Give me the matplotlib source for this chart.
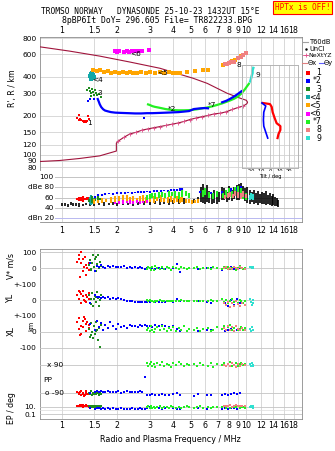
import numpy as np
import matplotlib
matplotlib.use("Agg")
import matplotlib.pyplot as plt
from matplotlib.ticker import FixedLocator, FixedFormatter, NullLocator

# ---*** DATA ***---
freq_ticks = [1, 1.5, 2, 3, 4, 5, 6, 7, 8, 9, 10, 12, 14, 16, 18]
freq_labels = ["1", "1.5", "2", "3", "4", "5", "6", "7", "8", "9", "10", "12", "14", "16", "18"]
h_ticks = [80, 90, 100, 120, 150, 200, 300, 400, 600, 800]

# model profile (plasma frequency vs real height)
prof_f = [0.759, 1.105, 1.609, 2.342, 3.41, 4.38, 5.15, 6.14, 7.88, 9.27, 10.0, 10.15, 10.05,
          9.632, 9.049, 8.394, 7.787, 7.224, 6.701, 6.216, 5.767, 5.349, 4.962, 4.603, 4.269,
          3.961, 3.674, 3.409, 3.162, 2.934, 2.722, 2.525, 2.342, 2.173, 2.015, 1.98, 1.98,
          1.609, 1.25, 0.975, 0.759]
prof_h = [685, 634, 580, 522, 467, 419, 391, 357, 299, 274, 264, 255, 248,
          238.8, 232.6, 224.4, 215.1, 209.8, 207.3, 201.8, 197.2, 192.6, 187.6, 181.3, 176.2,
          172.5, 168.9, 165.4, 162.1, 158.7, 155.1, 149.2, 145.2, 136.5, 127.1, 123, 107,
          98.2, 93.7, 90.4, 88.8]
nx_f = [2.015, 2.173, 2.342, 2.525, 2.722, 2.934, 3.162, 3.409, 3.674, 3.961, 4.269, 4.603,
        4.962, 5.349, 5.767, 6.216, 6.701, 7.224, 7.787, 8.394, 9.049, 9.632]
nx_h = [127.1, 136.5, 145.2, 149.2, 155.1, 158.7, 162.1, 165.4, 168.9, 172.5, 176.2, 181.3,
        187.6, 192.6, 197.2, 201.8, 207.3, 209.8, 215.1, 224.4, 232.6, 238.8]

# echo traces R' vs f
f1 = [1.22, 1.24, 1.26, 1.28, 1.30, 1.32, 1.34, 1.36, 1.38, 1.40, 1.25, 1.39]
h1 = [191, 187, 189, 186, 184, 181, 182, 180, 184, 190, 204, 200]
f2 = [1.57, 1.59, 1.61, 1.64, 1.68, 1.72, 1.78, 1.85, 1.95, 2.1, 2.3, 2.5,
      2.7, 2.9, 3.1, 3.4, 3.7, 4.0, 4.3, 4.6, 4.9, 5.2, 5.5, 5.9, 6.2]
h2 = [270, 258, 246, 234, 225, 220, 217, 214, 212, 211, 210, 209,
      209, 210, 210, 211, 212, 213, 214, 216, 218, 226, 228, 230, 229]
f2b = [7.4, 7.8, 8.2, 8.6, 9.0, 9.4]
h2b = [255, 262, 272, 283, 296, 310]
f2s = [1.39, 1.42, 1.50, 2.79]
h2s = [261, 268, 272, 191]
f3 = [1.38, 1.40, 1.42, 1.44, 1.46, 1.48, 1.50, 1.53, 1.56, 1.60, 1.63, 1.45, 1.52]
h3 = [318, 326, 310, 300, 322, 305, 292, 300, 288, 296, 282, 285, 315]
f4 = [1.42, 1.44, 1.46, 1.48, 1.50, 1.45, 1.47]
h4 = [410, 425, 395, 418, 402, 385, 432]
f5 = [1.48, 1.55, 1.62, 1.70, 1.78, 1.86, 1.95, 2.05, 2.15, 2.25, 2.35, 2.45, 2.55, 2.7, 2.85,
      3.0, 3.2, 3.4, 3.6, 3.8, 4.0, 4.2, 4.4, 4.8, 5.3, 5.8, 6.2, 7.5, 7.8, 8.1, 8.4, 8.7, 9.0, 9.3]
h5 = [455, 445, 450, 438, 442, 432, 440, 430, 436, 428, 438, 432, 426, 440, 430,
      436, 432, 434, 428, 436, 430, 432, 428, 440, 445, 450, 452, 495, 505, 515, 530, 545, 560, 585]
f6 = [1.94, 1.99, 2.05, 2.18, 2.25, 2.33, 2.42, 2.50, 2.58, 2.66, 2.74, 2.98]
h6 = [640, 628, 635, 622, 630, 628, 632, 630, 636, 631, 633, 650]
f7 = [2.9, 3.0, 3.1, 3.2, 3.35, 3.5, 3.65, 3.8, 4.0, 4.3, 4.6, 5.0, 5.4, 5.8, 6.2, 6.6, 7.0,
      7.4, 7.8, 8.2, 8.6, 9.0, 9.4, 9.8, 10.1, 10.4]
h7 = [247, 243, 238, 235, 232, 229, 226, 224, 222, 221, 221, 222, 225, 229, 233, 238, 244,
      250, 257, 264, 272, 282, 298, 320, 340, 360]
f8 = [7.7, 7.9, 8.1, 8.3, 8.6, 9.0, 9.3, 9.6, 10.0]
h8 = [500, 505, 510, 520, 525, 560, 575, 590, 615]
f9 = [10.5, 10.6, 10.7, 10.8, 10.8, 10.9]
h9 = [370, 390, 410, 430, 450, 470]

trace_names = ["1", "*2", "3", "<4", "<5", "<6", "*7", "8", "9"]
trace_cols = ["#ff0000", "#0000ff", "#1e8c1e", "#10a8a8", "#ffa500", "#ff00ff",
              "#22f022", "#f08080", "#30e0d0"]
lab_f = [1.42, 3.95, 1.61, 1.57, 3.52, 2.52, 6.52, 9.16, 11.5]
lab_h = [176, 226, 300, 379, 432, 601, 243, 494, 414]

# tilt
tx_h = [252, 247, 235, 214, 193, 176, 167, 156, 145, 135]
tx_v = [-7.6, 0, 1.8, 2.8, 4.9, 7, 11, 11, 9, 8]
ty_h = [252, 239, 214, 186, 167, 150, 135]
ty_v = [-8.6, -4.5, -6.6, -7, -6.6, -4.5, -2.4]

# amplitude (dB) ranges
un_f = [1.00, 1.04, 1.08, 1.12, 1.16, 1.20, 1.25, 1.30, 1.36, 1.42,
        1.50, 1.60, 1.70, 1.80, 1.90, 2.00, 2.15, 2.30, 2.45, 2.60, 2.80,
        3.00, 3.20, 3.40, 3.60, 3.80, 4.00, 4.30, 4.60, 4.90,
        5.20, 5.50, 5.70, 5.85, 6.00, 6.15, 6.30,
        6.50, 6.70, 6.90, 7.10, 7.35,
        7.60, 7.85, 8.10, 8.35, 8.60, 8.85, 9.10, 9.35, 9.60, 9.85,
        10.1, 10.4, 10.7, 11.0, 11.3, 11.6, 11.9, 12.2, 12.5, 12.8, 13.1, 13.4, 13.7, 14.0, 14.3, 14.6, 14.9]
un_lo = [43, 44, 42, 45, 43, 44, 42, 44, 45, 43,
         44, 45, 44, 46, 45, 44, 46, 45, 44, 46, 45,
         46, 47, 45, 48, 46, 47, 48, 47, 49,
         50, 49, 52, 50, 48, 52, 50,
         48, 50, 47, 52, 55,
         55, 52, 56, 54, 58, 55, 56, 60, 57, 54,
         50, 48, 52, 47, 50, 46, 49, 47, 48, 45, 47, 46, 44, 45, 43, 44, 42]
un_hi = [49, 50, 48, 51, 50, 49, 50, 48, 50, 49,
         50, 49, 51, 50, 52, 50, 51, 50, 52, 51, 53,
         55, 54, 57, 56, 58, 55, 57, 60, 58,
         58, 62, 80, 86, 78, 84, 74,
         70, 76, 68, 72, 80,
         78, 72, 82, 76, 80, 84, 86, 88, 82, 78,
         80, 76, 72, 75, 70, 74, 68, 72, 70, 73, 66, 70, 64, 67, 62, 60, 55]
db_f = [[1.22, 1.25, 1.28, 1.31, 1.34, 1.37, 1.40],
        [1.52, 1.58, 1.65, 1.72, 1.80, 1.90, 2.0, 2.1, 2.2, 2.3, 2.4, 2.5, 2.6, 2.7, 2.8, 2.9, 3.0,
         3.15, 3.3, 3.45, 3.6, 3.75, 3.9, 4.05, 4.2, 4.35, 4.5, 5.6, 6.4, 7.4, 7.8, 8.3, 8.8, 9.3],
        [1.40, 1.46, 1.52, 1.57, 1.62],
        [1.42, 1.44, 1.46, 1.48, 1.50],
        [1.50, 1.58, 1.66, 1.75, 1.85, 1.95, 2.05, 2.15, 2.25, 2.35, 2.45, 2.55, 2.65, 2.75, 2.85,
         3.0, 3.15, 3.3, 3.45, 3.6, 3.75, 3.9, 4.05, 4.2, 4.35, 4.5, 4.7, 4.9, 5.1, 5.3, 5.5],
        [1.95, 2.05, 2.15, 2.25, 2.35, 2.45, 2.55, 2.65, 2.75, 2.90],
        [2.9, 3.0, 3.1, 3.2, 3.35, 3.5, 3.65, 3.8, 3.95, 4.1, 4.3, 4.5, 4.7, 4.9, 5.8, 6.0, 6.3,
         6.6, 6.9, 7.5, 7.8, 8.1, 8.4, 8.7, 9.0, 9.3, 9.6, 9.9],
        [7.7, 7.95, 8.2, 8.45, 8.7, 9.0, 9.3, 9.6, 9.9],
        [10.4, 10.6, 10.8]]
db_lo = [[55, 53, 54, 52, 55, 56, 57],
         [60, 63, 64, 66, 67, 66, 68, 67, 68, 69, 68, 69, 70, 69, 70, 71, 70, 71, 72, 71, 73, 72,
          73, 74, 73, 74, 73, 70, 68, 68, 70, 72, 74, 76],
         [52, 50, 53, 51, 55],
         [48, 46, 50, 47, 52],
         [48, 50, 49, 51, 50, 52, 53, 52, 54, 51, 52, 50, 53, 51, 50, 52, 50, 53, 51, 52, 50, 51,
          49, 52, 50, 51, 49, 50, 48, 49, 50],
         [47, 48, 47, 49, 48, 47, 49, 48, 49, 50],
         [56, 58, 60, 57, 60, 62, 59, 61, 63, 60, 58, 62, 64, 60, 62, 65, 60, 58, 62, 60, 62, 64,
          60, 63, 66, 62, 58, 56],
         [58, 60, 62, 59, 63, 60, 58, 61, 60],
         [55, 57, 56]]
db_hi = [[60, 62, 61, 63, 60, 62, 61],
         [64, 67, 68, 70, 70, 70, 71, 71, 72, 72, 72, 72, 73, 73, 74, 74, 74, 75, 75, 75, 76, 76,
          77, 77, 77, 78, 78, 74, 72, 74, 76, 78, 80, 82],
         [58, 63, 61, 64, 60],
         [62, 66, 64, 60, 58],
         [58, 56, 60, 58, 62, 64, 63, 66, 65, 62, 64, 60, 63, 66, 62, 61, 64, 62, 65, 60, 62, 64,
          60, 63, 61, 62, 58, 57, 56, 55, 58],
         [52, 54, 55, 53, 56, 54, 55, 53, 54, 55],
         [66, 68, 70, 69, 71, 72, 70, 73, 71, 74, 72, 75, 73, 70, 75, 78, 72, 70, 74, 70, 76, 78,
          74, 80, 82, 78, 72, 70],
         [66, 70, 72, 68, 74, 72, 70, 74, 68],
         [66, 70, 68]]

# lower panel: per trace f, V*, YL, XL, PP, EP
lo_cols = ["#ff0000", "#1e8c1e", "#0000ff", "#22f022", "#f08080", "#30e0d0"]
lo_f = [[1.22, 1.24, 1.25, 1.27, 1.28, 1.30, 1.31, 1.33, 1.35, 1.36, 1.38, 1.40, 1.41, 1.26, 1.34],
        [1.40, 1.42, 1.44, 1.46, 1.48, 1.50, 1.52, 1.54, 1.56, 1.58, 1.60, 1.62, 1.64, 1.45, 1.53],
        [1.42, 1.52, 1.56, 1.60, 1.64, 1.68, 1.72, 1.78, 1.84, 1.90, 1.96, 2.03, 2.10, 2.18, 2.26,
         2.34, 2.42, 2.50, 2.58, 2.66, 2.74, 2.82, 2.90, 3.0, 3.1, 3.2, 3.35, 3.5, 3.65, 3.8, 4.0,
         4.2, 4.4, 5.2, 5.5, 6.1, 6.4, 7.4, 7.7, 8.0, 8.3, 8.6, 8.9, 9.2],
        [2.90, 2.95, 3.00, 3.05, 3.10, 3.15, 3.20, 3.30, 3.40, 3.50, 3.60, 3.70, 3.80, 3.90, 4.00,
         4.15, 4.30, 4.45, 4.60, 4.75, 4.90, 5.20, 5.40, 5.60, 5.80, 6.20, 6.40, 6.60, 6.90, 7.40,
         7.60, 7.80, 8.00, 8.20, 8.40, 8.60, 8.80, 9.00, 9.20, 9.40, 9.60, 9.80],
        [7.6, 7.8, 8.0, 8.2, 8.4, 8.6, 8.8, 9.0, 9.2, 9.5, 9.8],
        [10.5, 10.6, 10.7, 10.8, 10.9]]
lo_v = [[40, 80, 55, 100, 30, -20, 60, 10, -45, 20, 0, -10, 35, -55, 70],
        [20, 50, -10, 35, 80, 5, 60, -20, 25, 83, 0, 40, 15, -5, 70],
        [30, -20, 15, 5, 20, 10, 0, 12, 8, 15, 5, 10, 6, 12, 4, 8, 2, 6, 0, 5, 3, -2, 4, 0, 2, -3,
         1, 0, -2, 3, 0, 25, -25, 2, -5, 0, 3, -10, 5, -2, 8, -6, 2, 0],
        [-5, 10, 0, -12, 5, -8, 15, 0, -5, 8, -3, 5, 0, -10, 6, 2, -4, 8, 0, -6, 4, 0, 5, -5, 3,
         0, -4, 6, 2, -3, 5, 0, 8, -5, 2, 10, -8, 4, 15, 0, -6, 3],
        [0, 5, -5, 3, -2, 8, 0, -4, 6, 2, -3],
        [5, 10, 0, 8, 3]]
lo_yl = [[30, 55, 10, 40, -15, 25, 60, 0, 35, -10, 20, 45, 5, 50, -5],
         [30, -20, 10, 45, -35, 5, 25, -10, 52, 15, -40, 0, 35, -25, 20],
         [-20, 30, 18, 22, 15, 20, 12, 18, 10, 14, 8, 12, 5, 2, -4, -6, -8, -10, -12, -9, -11,
          -13, -10, -12, -8, -11, -10, -9, -12, -8, -10, 5, -6, -5, -3, -12, -18, 10, -20, -35,
          0, -28, 5, -15],
         [-2, -6, 0, -8, -4, -10, -3, -6, -2, -8, -5, -4, -7, -3, -6, -5, -8, -2, -6, -4, -7, -5,
          -3, -8, -4, -6, -2, -5, -7, 5, -10, 0, -15, -5, 8, -12, -3, -20, 0, -8, -15, -5],
         [-15, -30, -10, -45, -20, -35, -8, -25, -40, -15, -30],
         [10, -10, -30, 0, -20]]
lo_xl = [[60, 20, 85, 40, -15, 70, 30, 95, 50, 5, 65, 25, 45, -20, 80],
         [20, -30, 55, 0, -40, 35, -10, 64, 10, -50, 25, -95, 45, -20, 5],
         [50, 10, 70, 30, 55, 15, 45, 25, 60, 35, 20, 50, 30, 40, 25, 45, 35, 40, 30, 45, 38, 42,
          35, 40, 33, 45, 38, 42, 36, 30, 40, 20, 5, 12, 8, 10, 15, 20, 5, 12, 18, 8, 14, 10],
         [10, 25, 5, 35, 15, 0, 20, 30, 10, 40, 18, 5, 25, 12, 30, 8, 22, 15, 35, 5, 20, 12, 28,
          8, 18, 25, 5, 15, 30, 20, 40, 10, 30, 45, 15, 25, 35, 10, 20, 30, 15, 25],
         [25, 10, 40, 15, 30, 5, 35, 20, 10, 25, 15],
         [20, 5, 30, 10, 15]]
lo_pp = [[-80, -95, -88, -100, -75, -92, -85, -105, -90, -78, -96, -86, -93, -82, -99],
         [-85, -95, -78, -100, -88, -92, -80, -97, -84, -90, -102, -87, -93, -75, -89],
         [-85, -80, -78, -82, -76, -84, -80, -78, -83, -79, -81, -77, -85, -80, -78, -82, -79,
          -84, -80, -76, -82, 12, -98, -100, -96, -102, -99, -97, -101, -98, -95, -88, -100,
          -105, -95, -100, -98, -102, -97, -99, -95, -88, -92, -85],
         [100, 80, 95, 110, 85, 92, 75, 98, 88, 105, 82, 95, 90, 78, 100, 86, 108, 92, 80, 96,
          88, 94, 80, 102, 90, 85, 98, 78, 92, 88, 100, 82, 95, 105, 85, 90, 98, 80, 92, 100, 86, 94],
         [90, 80, 95, 85, 100, 88, 78, 92, 84, 96, 90],
         [95, 85, 100, 90, 80]]
lo_ep = [[15, 20, 12, 25, 18, 10, 22, 14, 16, 30, 12, 20, 11, 24, 17],
         [12, 8, 15, 10, 18, 9, 13, 11, 20, 7, 14, 10, 16, 12, 9],
         [5, 3, 4, 6, 2, 5, 3, 4, 2, 5, 3, 2, 4, 3, 2, 3, 4, 2, 3, 5, 2, 3, 6, 8, 5, 4, 6, 3, 5,
          4, 6, 3, 2, 4, 5, 3, 4, 2, 6, 3, 5, 4, 3, 5],
         [8, 12, 5, 15, 6, 10, 4, 9, 14, 6, 11, 7, 5, 12, 8, 6, 10, 4, 9, 13, 7, 5, 8, 12, 6, 9,
          4, 7, 10, 8, 12, 5, 15, 6, 9, 11, 7, 13, 5, 8, 10, 6],
         [12, 20, 15, 25, 10, 18, 22, 14, 16, 20, 12],
         [10, 15, 8, 12, 6]]

# ---*** LAYOUT ***---
W, H = 335.0, 451.0
GRID = "#d2d2d2"
FRAME = "#8c8c8c"
FS = 5.3


def box(x0, y0, x1, y1):
    return [x0 / W, 1 - y1 / H, (x1 - x0) / W, (y1 - y0) / H]


def freq_axis(a, labels=None, top=False, pad=1.5):
    a.set_xscale("log")
    a.set_xlim(0.76, 20)
    a.xaxis.set_major_locator(FixedLocator(freq_ticks))
    a.xaxis.set_minor_locator(NullLocator())
    if labels:
        a.xaxis.set_major_formatter(FixedFormatter(freq_labels))
    else:
        a.set_xticklabels([])
    if top:
        a.xaxis.tick_top()
    a.tick_params(axis="x", length=0, labelsize=FS + 0.4, pad=pad)


fig = plt.figure(figsize=(3.35, 4.51), dpi=100)
mono = "DejaVu Sans Mono"
fig.text(150 / W, 1 - 12 / H, "TROMSO NORWAY   DYNASONDE 25-10-23 1432UT 15\u00b0E",
         family=mono, fontsize=5.65, ha="center", va="center")
fig.text(157 / W, 1 - 20.5 / H, "8pBP6It DoY= 296.605 File= TR822233.BPG",
         family=mono, fontsize=5.85, ha="center", va="center")
fig.text(302.5 / W, 1 - 7.5 / H, "HPTx is OFF!", family=mono, fontsize=5.6, color="#ff0000",
         ha="center", va="center",
         bbox=dict(boxstyle="square,pad=0.25", facecolor="#ffff00", edgecolor="#ff0000", lw=0.8))

# ---*** TOP PANEL: R' vs f ***---
ax = fig.add_axes(box(39.5, 37, 302, 171))
freq_axis(ax, labels=True, top=True)
ax.set_yscale("log")
ax.set_ylim(75, 815)
ax.yaxis.set_major_locator(FixedLocator(h_ticks))
ax.yaxis.set_major_formatter(FixedFormatter([str(v) for v in h_ticks]))
ax.yaxis.set_minor_locator(NullLocator())
ax.tick_params(axis="y", length=0, labelsize=FS, pad=2)
ax.grid(True, color=GRID, lw=0.6)
for s in ax.spines.values():
    s.set_color(FRAME)
    s.set_linewidth(0.6)

ax.plot(prof_f, prof_h, color="#a0143c", lw=0.8, zorder=3)
ax.plot(nx_f, nx_h, "+", color="#e0508c", ms=3, mew=0.6, zorder=3)

ms = 3.5
ax.scatter(f1, h1, s=ms + 1, marker="s", color=trace_cols[0], lw=0, zorder=4)
ax.scatter(f3, h3, s=ms + 1, marker="s", color=trace_cols[2], lw=0, zorder=4)
ax.scatter(f4, h4, s=ms + 2, marker="s", color=trace_cols[3], lw=0, zorder=4)
ax.scatter(f5, h5, s=ms + 3, marker="s", color=trace_cols[4], lw=0, zorder=4)
ax.scatter(f6, h6, s=ms + 2, marker="s", color=trace_cols[5], lw=0, zorder=4)
ax.plot(f7, h7, color=trace_cols[6], lw=1.6, zorder=4, solid_capstyle="butt")
ax.plot(f2, h2, color=trace_cols[1], lw=1.6, zorder=5)
ax.plot(f2b, h2b, color=trace_cols[1], lw=1.6, zorder=5)
ax.scatter(f2s, h2s, s=ms, marker="s", color=trace_cols[1], lw=0, zorder=5)
ax.scatter(f8, h8, s=ms + 2, marker="s", color=trace_cols[7], lw=0, zorder=4)
ax.plot(f9, h9, color=trace_cols[8], lw=1.8, zorder=4)
for i in range(9):
    ax.text(lab_f[i], lab_h[i], trace_names[i], fontsize=FS, ha="center", va="center", zorder=6)

fig.text(12 / W, 1 - 88 / H, "R', R / km", rotation=90, fontsize=FS + 0.3,
         ha="center", va="center")

# tilt inset
axt = fig.add_axes(box(241.7, 65, 298.3, 168.3))
axt.patch.set_alpha(0)
axt.set_yscale("log")
axt.set_ylim(78.9, 495)
axt.set_xlim(-30, 30)
axt.set_yticks([])
axt.yaxis.set_minor_locator(NullLocator())
axt.set_xticks([-20, -10, 0, 10, 20])
axt.set_xticklabels(["-20", "-10", "0", "10", "20"])
axt.tick_params(axis="x", length=0, labelsize=3.7, pad=0.6)
axt.grid(True, axis="x", color="#c0c0c0", lw=0.6)
for s in axt.spines.values():
    s.set_color("#b4b4b4")
    s.set_linewidth(0.7)
axt.plot(tx_v, tx_h, color="#ff0000", lw=1.6)
axt.plot(ty_v, ty_h, color="#0000ff", lw=1.2)
fig.text(270 / W, 1 - 176.2 / H, "Tilt / deg", fontsize=3.7, ha="center", va="center")

# legend
ov = fig.add_axes([0, 0, 1, 1])
ov.set_xlim(0, W)
ov.set_ylim(H, 0)
ov.axis("off")
ov.patch.set_alpha(0)
LF = 4.8
ov.plot([303, 308], [42.3, 42.3], color="#a0a0a0", lw=0.8)
ov.text(309.5, 42.3, "T60dB", fontsize=LF, va="center")
ov.plot([305.5], [48.7], ".", color="black", ms=1.5)
ov.text(309.5, 48.7, "UnCl", fontsize=LF, va="center")
ov.plot([303, 308], [55.3, 55.3], color="#e0508c", lw=0.6)
ov.plot([305.5], [55.3], "+", color="#e0508c", ms=3, mew=0.6)
ov.text(308.5, 55.3, "NeXtYZ", fontsize=LF - 0.3, va="center")
ov.plot([302, 307], [63.3, 63.3], color="#e08080", lw=0.8)
ov.text(307.5, 63.3, "\u0398x", fontsize=LF, va="center")
ov.plot([318.5, 323.5], [63.3, 63.3], color="#6060ff", lw=0.8)
ov.text(324, 63.3, "\u0398y", fontsize=LF, va="center")
for i in range(9):
    yy = 72.7 + 8.17 * i
    ov.scatter([307.5], [yy], s=5, marker="s", color=trace_cols[i], lw=0)
    ov.text(321, yy, trace_names[i], fontsize=FS + 0.3, ha="right", va="center")

# ---*** AMPLITUDE PANEL ***---
axd = fig.add_axes(box(39.5, 171, 302, 222))
freq_axis(axd, labels=True, pad=3.2)
axd.set_ylim(12.1, 112.4)
axd.set_yticks([])
axd.grid(True, axis="x", color=GRID, lw=0.6)
for name, s in axd.spines.items():
    s.set_color(FRAME)
    s.set_linewidth(0.6)
    if name in ("top", "left"):
        s.set_visible(False)
gx0 = (55 - 39.5) / (302 - 39.5)
for lev, lab in zip([100, 80, 60, 40, 20], ["100", "dBe 80", "60", "40", "dBn 20"]):
    axd.axhline(lev, xmin=gx0, color="#b8b8f0" if lev == 20 else "#c4c4c4", lw=0.7)
    axd.text(0.054, lev, lab, transform=axd.get_yaxis_transform(), fontsize=FS,
             ha="right", va="center")
axd.vlines(un_f, un_lo, un_hi, color="black", lw=1.2, zorder=3)
for i in [0, 3, 2, 4, 5, 1, 6, 7, 8]:
    axd.vlines(db_f[i], db_lo[i], db_hi[i], color=trace_cols[i], lw=1.5, zorder=4)

# ---*** LOWER PANEL: V*, YL, XL, PP, EP ***---
axl = fig.add_axes(box(39.5, 249, 302, 419))
freq_axis(axl, labels=True, pad=1.5)
axl.set_ylim(0, 1)
axl.set_yticks([])
axl.grid(True, axis="x", color=GRID, lw=0.6)
for s in axl.spines.values():
    s.set_color(FRAME)
    s.set_linewidth(0.6)

bands = [
    # (top px, bottom px, ylim, ticks, labels, log, values)
    (249, 284.3, (-100, 120.6), [100, 0, -100], ["100", "0", "+-100"], False, lo_v),
    (284.3, 316, (-100, 100), [0, -100], ["0", "+-100"], False, lo_yl),
    (316, 356, (-150, 100), [0, -100], ["0", "-100"], False, lo_xl),
    (356, 400, (-132, 145), [], [], False, lo_pp),
    (400, 419, (0.0043, 684), [10, 0.1], ["10.", "0.1"], True, lo_ep),
]
band_axes = []
for top, bot, yl, tks, tls, lg, vals in bands:
    b = fig.add_axes(box(39.5, top, 302, bot), sharex=axl)
    b.patch.set_alpha(0)
    for s in b.spines.values():
        s.set_visible(False)
    if lg:
        b.set_yscale("log")
    b.set_ylim(*yl)
    b.yaxis.set_minor_locator(NullLocator())
    b.set_yticks(tks)
    b.set_yticklabels(tls)
    b.tick_params(axis="y", length=0, labelsize=FS, pad=2.2)
    b.tick_params(axis="x", length=0, labelbottom=False, labeltop=False)
    grid_lv = tks if tks else [90, -90]
    for lv in grid_lv:
        b.axhline(lv, color="#c4c4c4", lw=0.6, zorder=1)
    if lg:
        b.axhline(1, color="#dcdcdc", lw=0.5, zorder=1)
    for i in range(len(lo_f)):
        b.scatter(lo_f[i], vals[i], s=3.2, marker="s", color=lo_cols[i], lw=0, zorder=3)
    band_axes.append(b)

bpp = band_axes[3]
bpp.text(0.029, 90, "x 90", transform=bpp.get_yaxis_transform(), fontsize=FS, va="center")
bpp.text(0.013, -6, "PP", transform=bpp.get_yaxis_transform(), fontsize=FS, va="center")
bpp.text(0.021, -90, "o -90", transform=bpp.get_yaxis_transform(), fontsize=FS, va="center")

fig.text(11 / W, 1 - 266 / H, "V* m/s", rotation=90, fontsize=FS + 0.3, ha="center", va="center")
fig.text(11 / W, 1 - 298 / H, "YL", rotation=90, fontsize=FS + 0.5, ha="center", va="center")
fig.text(11 / W, 1 - 331 / H, "XL", rotation=90, fontsize=FS + 0.5, ha="center", va="center")
fig.text(31.5 / W, 1 - 325.5 / H, "km", rotation=90, fontsize=FS - 0.6, ha="center", va="center")
fig.text(11 / W, 1 - 408 / H, "EP / deg", rotation=90, fontsize=FS + 0.3, ha="center", va="center")
fig.text(170 / W, 1 - 439 / H, "Radio and Plasma Frequency / MHz", fontsize=FS + 0.5,
         ha="center", va="center")

fig.savefig("out.png", dpi=100)
